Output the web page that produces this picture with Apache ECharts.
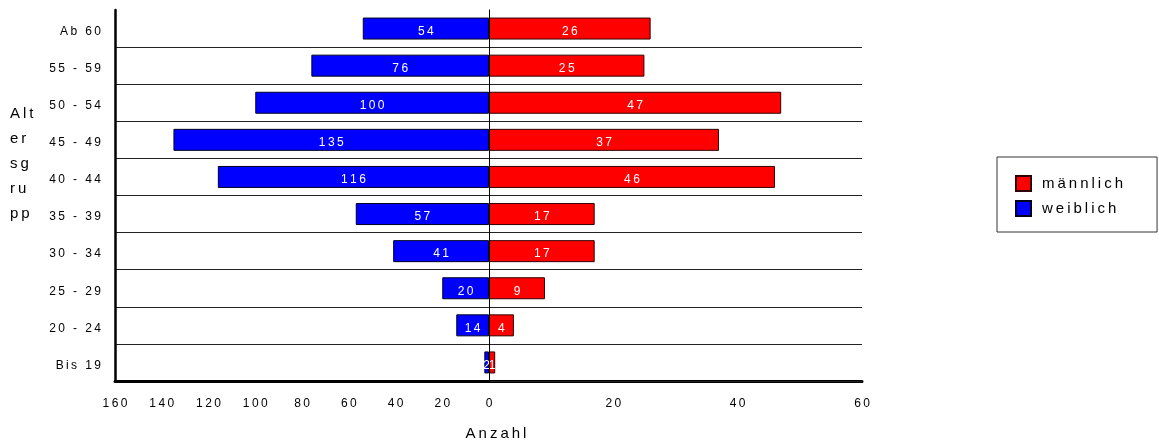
<!DOCTYPE html>
<html>
<head>
<meta charset="utf-8">
<script src="https://cdn.jsdelivr.net/npm/echarts@6/dist/echarts.min.js"></script>
<style>
  html, body { margin: 0; padding: 0; background: #fff; }
  #chart { width: 1159px; height: 444px; }
</style>
</head>
<body>
<div id="chart"></div>
<script>
// Age groups, bottom to top
const categories = ['Bis 19', '20 - 24', '25 - 29', '30 - 34', '35 - 39', '40 - 44', '45 - 49', '50 - 54', '55 - 59', 'Ab 60'];
const weiblich = [2, 14, 20, 41, 57, 116, 135, 100, 76, 54];
const maennlich = [1, 4, 9, 17, 17, 46, 37, 47, 25, 26];
const seriesNames = ['männlich', 'weiblich'];
const axisTitleX = 'Anzahl';
const axisTitleY = ['Alt', 'er', 'sg', 'ru', 'pp'];
// axis ranges for the two halves of the pyramid
const leftMax = 160;
const rightMax = 60;
const tickStep = 20;

const FONT = '"Liberation Sans", Arial, sans-serif';
// widen glyph spacing with thin spaces
const spaced = s => String(s).split('').join('\u2009');

const chart = echarts.init(document.getElementById('chart'), null, { renderer: 'canvas' });

// row separators: one per band boundary, the topmost one left invisible
const sepColors = categories.map(() => '#222').concat(['rgba(0,0,0,0)']);
const sepLine = { show: true, lineStyle: { color: sepColors, width: 1 } };

chart.setOption({
  animation: false,
  backgroundColor: '#fff',
  grid: [
    { left: 115, top: 10, width: 374, height: 371 },
    { left: 489, top: 10, width: 373, height: 371 }
  ],
  xAxis: [
    {
      gridIndex: 0, type: 'value', inverse: true, min: 0, max: leftMax, interval: tickStep,
      axisLine: { show: true, onZero: false, lineStyle: { color: '#000', width: 3 } },
      axisTick: { show: false },
      splitLine: { show: false },
      axisLabel: { margin: 17, fontSize: 12, fontFamily: FONT, color: '#000', formatter: v => spaced(v) }
    },
    {
      gridIndex: 1, type: 'value', min: 0, max: rightMax, interval: tickStep,
      axisLine: { show: true, onZero: false, lineStyle: { color: '#000', width: 3 } },
      axisTick: { show: false },
      splitLine: { show: false },
      axisLabel: { margin: 17, fontSize: 12, fontFamily: FONT, color: '#000', showMinLabel: false, formatter: v => spaced(v) }
    }
  ],
  yAxis: [
    {
      gridIndex: 0, type: 'category', data: categories, position: 'left',
      axisLine: { show: true, onZero: false, lineStyle: { color: '#000', width: 2.5 } },
      axisTick: { show: false },
      splitLine: sepLine,
      axisLabel: {
        margin: 14, color: '#000',
        formatter: v => '{c|' + spaced(v) + '}',
        rich: { c: { fontSize: 12, fontFamily: FONT, color: '#000', padding: [6, 0, 0, 0] } }
      }
    },
    {
      gridIndex: 1, type: 'category', data: categories, position: 'left', z: 5,
      axisLine: { show: true, onZero: false, lineStyle: { color: '#000', width: 1 } },
      axisTick: { show: false },
      splitLine: sepLine,
      axisLabel: { show: false }
    }
  ],
  legend: {
    data: seriesNames,
    orient: 'vertical',
    left: 997, top: 157,
    padding: [18, 34, 15, 18],
    itemWidth: 15, itemHeight: 15, itemGap: 8,
    borderColor: '#333', borderWidth: 1,
    icon: 'rect',
    textStyle: { fontSize: 15, fontFamily: FONT, color: '#000', padding: [3, 0, 0, 6] },
    formatter: spaced
  },
  series: [
    {
      name: 'männlich', type: 'bar', xAxisIndex: 1, yAxisIndex: 1,
      data: maennlich, barWidth: 22,
      itemStyle: { color: '#ff0000', borderColor: '#300000', borderWidth: 1 },
      label: { show: true, position: 'inside', offset: [0, 3], color: '#fff', fontSize: 12, fontFamily: FONT, formatter: p => spaced(p.value) }
    },
    {
      name: 'weiblich', type: 'bar', xAxisIndex: 0, yAxisIndex: 0,
      data: weiblich, barWidth: 22,
      itemStyle: { color: '#0000ff', borderColor: '#000020', borderWidth: 1 },
      label: { show: true, position: 'inside', offset: [0, 3], color: '#fff', fontSize: 12, fontFamily: FONT, formatter: p => spaced(p.value) }
    }
  ],
  graphic: [
    {
      type: 'text', x: 496, y: 434,
      style: { text: spaced(axisTitleX), font: '15px ' + FONT, fill: '#000', align: 'center', verticalAlign: 'middle' }
    },
    {
      type: 'text', x: 10, y: 101,
      style: { text: axisTitleY.map(spaced).join('\n'), font: '15px ' + FONT, lineHeight: 25, fill: '#000', align: 'left', verticalAlign: 'top' }
    }
  ]
});
</script>
</body>
</html>
